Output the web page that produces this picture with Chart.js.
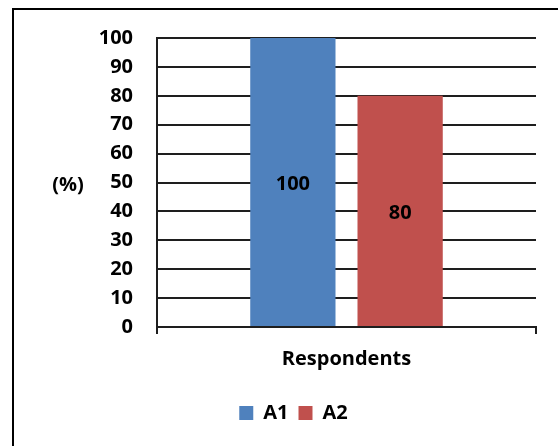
<!DOCTYPE html>
<html>
<head>
<meta charset="utf-8">
<script src="https://cdn.jsdelivr.net/npm/chart.js@4/dist/chart.umd.min.js"></script>
<style>
  html, body { margin: 0; padding: 0; background: #fff; overflow: hidden; }
  body { width: 558px; height: 446px; position: relative; }
  #frame {
    position: absolute; left: 12px; top: 8px;
    width: 600px; height: 500px;
    border: 2px solid #000; box-sizing: border-box;
  }
  #wrap { position: absolute; left: 14px; top: 2px; width: 560px; height: 444px; }
  #chart { display: block; }
</style>
</head>
<body>
<div id="frame"></div>
<div id="wrap"><canvas id="chart" width="560" height="444"></canvas></div>
<script>
// Survey result: share of respondents per group
const categories = ['Respondents'];
const seriesNames = ['A1', 'A2'];
const seriesA1 = [100];
const seriesA2 = [80];
const yTicks = [0, 10, 20, 30, 40, 50, 60, 70, 80, 90, 100];

const FONT = '"Open Sans", Lato, "Liberation Sans", sans-serif';
const FONT_SIZE = 20;
const AXIS_COLOR = '#1e1e1e';

// value labels centred inside each bar
const barLabels = {
  id: 'barLabels',
  afterDatasetsDraw(chart) {
    const ctx = chart.ctx;
    ctx.save();
    ctx.font = 'bold ' + FONT_SIZE + 'px ' + FONT;
    ctx.fillStyle = '#000';
    ctx.textAlign = 'center';
    ctx.textBaseline = 'middle';
    chart.data.datasets.forEach((ds, i) => {
      chart.getDatasetMeta(i).data.forEach((bar, j) => {
        const mid = (bar.y + bar.base) / 2;
        ctx.fillText(String(ds.data[j]), bar.x, mid + 2);
      });
    });
    ctx.restore();
  }
};

// horizontal "(%)" title left of the value axis
const yTitle = {
  id: 'yTitle',
  afterDraw(chart) {
    const ctx = chart.ctx;
    const a = chart.chartArea;
    ctx.save();
    ctx.font = 'bold ' + FONT_SIZE + 'px ' + FONT;
    ctx.fillStyle = '#000';
    ctx.textAlign = 'center';
    ctx.textBaseline = 'middle';
    ctx.fillText('(%)', a.left - 89, (a.top + a.bottom) / 2 + 3);
    ctx.restore();
  }
};

const tickFont = { family: FONT, size: FONT_SIZE, weight: 'bold' };

new Chart(document.getElementById('chart'), {
  type: 'bar',
  data: {
    labels: categories,
    datasets: [
      { label: seriesNames[0], data: seriesA1, backgroundColor: '#4F81BD' },
      { label: seriesNames[1], data: seriesA2, backgroundColor: '#C0504D' }
    ]
  },
  options: {
    responsive: false,
    animation: false,
    devicePixelRatio: 1,
    categoryPercentage: 0.566,
    barPercentage: 0.795,
    layout: { padding: { left: 37, right: 38, top: 19, bottom: 13 } },
    scales: {
      y: {
        min: 0, max: 100,
        afterBuildTicks(scale) { scale.ticks = yTicks.map(v => ({ value: v })); },
        afterFit(scale) { scale.width = 106; },
        ticks: { color: '#000', font: tickFont, padding: 24 },
        grid: { color: AXIS_COLOR, lineWidth: 2, drawTicks: false },
        border: { color: AXIS_COLOR, width: 2 }
      },
      x: {
        afterFit(scale) { scale.height = 66; },
        ticks: { color: '#000', font: tickFont, padding: 13 },
        grid: { offset: true, drawOnChartArea: false, drawTicks: true, tickLength: 7, color: AXIS_COLOR, lineWidth: 2 },
        border: { color: AXIS_COLOR, width: 2 }
      }
    },
    plugins: {
      legend: {
        position: 'bottom',
        labels: {
          color: '#000',
          font: tickFont,
          boxWidth: 14, boxHeight: 14, padding: 10
        }
      },
      tooltip: { enabled: false }
    }
  },
  plugins: [barLabels, yTitle]
});
</script>
</body>
</html>
